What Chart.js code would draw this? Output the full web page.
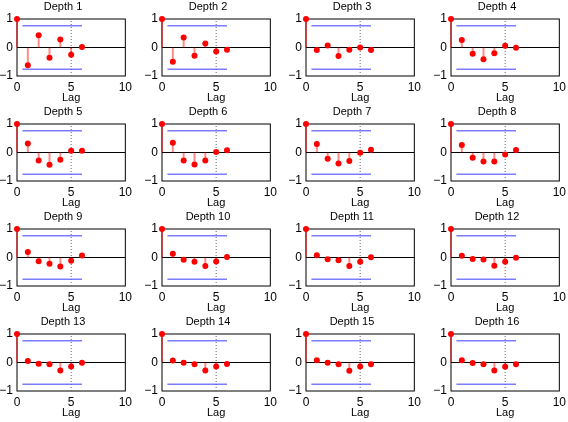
<!DOCTYPE html>
<html>
<head>
<meta charset="utf-8">
<script src="https://cdn.jsdelivr.net/npm/chart.js@4/dist/chart.umd.min.js"></script>
<style>
  html, body { margin: 0; padding: 0; background: #fff; }
  #grid { position: relative; width: 568px; height: 422px; overflow: hidden; }
  .panel { position: absolute; }
</style>
</head>
<body>
<div id="grid"></div>
<script>
// =============================
// Autocorrelation per depth (lags 0..6)
// =============================
const lags = [0, 1, 2, 3, 4, 5, 6];

const depth1  = [1, -0.62,  0.43, -0.36,  0.28, -0.25,  0.02];
const depth2  = [1, -0.50,  0.35, -0.29,  0.14, -0.14, -0.08];
const depth3  = [1, -0.09,  0.07, -0.30, -0.08,  0.00, -0.09];
const depth4  = [1,  0.26, -0.22, -0.41, -0.20,  0.06, -0.01];
const depth5  = [1,  0.32, -0.28, -0.43, -0.25,  0.06,  0.06];
const depth6  = [1,  0.34, -0.28, -0.42, -0.28,  0.02,  0.08];
const depth7  = [1,  0.30, -0.22, -0.39, -0.30, -0.01,  0.10];
const depth8  = [1,  0.26, -0.18, -0.32, -0.32, -0.07,  0.09];
const depth9  = [1,  0.19, -0.13, -0.22, -0.32, -0.11,  0.07];
const depth10 = [1,  0.13, -0.08, -0.15, -0.30, -0.14,  0.02];
const depth11 = [1,  0.08, -0.06, -0.10, -0.30, -0.15,  0.01];
const depth12 = [1,  0.06, -0.05, -0.07, -0.29, -0.15, -0.01];
const depth13 = [1,  0.05, -0.04, -0.06, -0.28, -0.14, -0.01];
const depth14 = [1,  0.07, -0.01, -0.06, -0.28, -0.14, -0.05];
const depth15 = [1,  0.08, -0.01, -0.06, -0.29, -0.14, -0.06];
const depth16 = [1,  0.08, -0.02, -0.06, -0.28, -0.15, -0.06];

const depthSeries = [depth1, depth2, depth3, depth4, depth5, depth6, depth7, depth8,
                     depth9, depth10, depth11, depth12, depth13, depth14, depth15, depth16];
const depthTitles = ['Depth 1', 'Depth 2', 'Depth 3', 'Depth 4', 'Depth 5', 'Depth 6',
                     'Depth 7', 'Depth 8', 'Depth 9', 'Depth 10', 'Depth 11', 'Depth 12',
                     'Depth 13', 'Depth 14', 'Depth 15', 'Depth 16'];

// ejes y bandas de confianza
const xTicks = [0, 5, 10];
const yTicks = [-1, 0, 1];
const bandLevel = 0.76;
const bandLags = [0.5, 6];
const refLag = 5;

const FAMILY = '"Liberation Sans", Arial, Helvetica, sans-serif';
const FONT = { family: FAMILY, size: 11 };
const TICK_FONT = { family: FAMILY, size: 12 };

// marco negro alrededor del área de trazado
const boxPlugin = {
  id: 'box',
  beforeDatasetsDraw(chart) {
    const { ctx, chartArea: a } = chart;
    ctx.save();
    ctx.strokeStyle = '#000';
    ctx.lineWidth = 1;
    ctx.strokeRect(a.left, a.top, a.right - a.left, a.bottom - a.top);
    ctx.restore();
  }
};

const minus = v => (v < 0 ? '\u2212' + Math.abs(v) : String(v));

const grid = document.getElementById('grid');

depthSeries.forEach((vals, k) => {
  const col = k % 4, row = Math.floor(k / 4);
  const canvas = document.createElement('canvas');
  canvas.width = 136;
  canvas.height = 105;
  canvas.className = 'panel';
  canvas.style.left = (144.7 * col) + 'px';
  canvas.style.top = (105 * row) + 'px';
  grid.appendChild(canvas);

  const stems = [];
  lags.forEach((lag, i) => {
    stems.push({ x: lag, y: 0 }, { x: lag, y: vals[i] }, { x: lag, y: null });
  });
  const points = lags.map((lag, i) => ({ x: lag, y: vals[i] }));

  new Chart(canvas, {
    type: 'line',
    data: {
      datasets: [
        { data: points, showLine: false, pointRadius: 3, pointBackgroundColor: '#ff0000',
          pointBorderWidth: 0, clip: false },
        { data: stems, borderColor: 'rgba(255,0,0,0.45)', borderWidth: 2, pointRadius: 0,
          spanGaps: false, clip: false },
        { data: [{ x: xTicks[0], y: 0 }, { x: xTicks[2], y: 0 }], borderColor: '#000',
          borderWidth: 1, pointRadius: 0 },
        { data: [{ x: bandLags[0], y: bandLevel }, { x: bandLags[1], y: bandLevel }],
          borderColor: 'rgba(80,80,255,0.75)', borderWidth: 1.5, pointRadius: 0 },
        { data: [{ x: bandLags[0], y: -bandLevel }, { x: bandLags[1], y: -bandLevel }],
          borderColor: 'rgba(80,80,255,0.75)', borderWidth: 1.5, pointRadius: 0 },
        { data: [{ x: refLag, y: yTicks[0] }, { x: refLag, y: yTicks[2] }],
          borderColor: '#666', borderWidth: 1, borderDash: [1, 2], pointRadius: 0 }
      ]
    },
    options: {
      responsive: false,
      animation: false,
      events: [],
      layout: { padding: { left: 0, right: 10, top: 0, bottom: 0 } },
      plugins: {
        legend: { display: false },
        tooltip: { enabled: false },
        title: {
          display: true,
          text: depthTitles[k],
          color: '#000',
          font: { ...FONT, weight: 'normal', lineHeight: 1.2 },
          padding: { top: 0, bottom: 5.8 }
        }
      },
      scales: {
        x: {
          type: 'linear',
          min: xTicks[0],
          max: xTicks[2],
          grid: { display: false, drawTicks: false },
          border: { display: false },
          afterBuildTicks: s => { s.ticks = xTicks.map(v => ({ value: v })); },
          afterFit: s => { s.height = 29; },
          ticks: { color: '#000', font: TICK_FONT, padding: 4, maxRotation: 0, callback: minus },
          title: { display: true, text: 'Lag', color: '#000', font: FONT, padding: 0 }
        },
        y: {
          min: yTicks[0],
          max: yTicks[2],
          grid: { display: false, drawTicks: false },
          border: { display: false },
          afterBuildTicks: s => { s.ticks = yTicks.map(v => ({ value: v })); },
          afterFit: s => { s.width = 17; },
          ticks: { color: '#000', font: TICK_FONT, padding: 4, callback: minus }
        }
      }
    },
    plugins: [boxPlugin]
  });
});
</script>
</body>
</html>
